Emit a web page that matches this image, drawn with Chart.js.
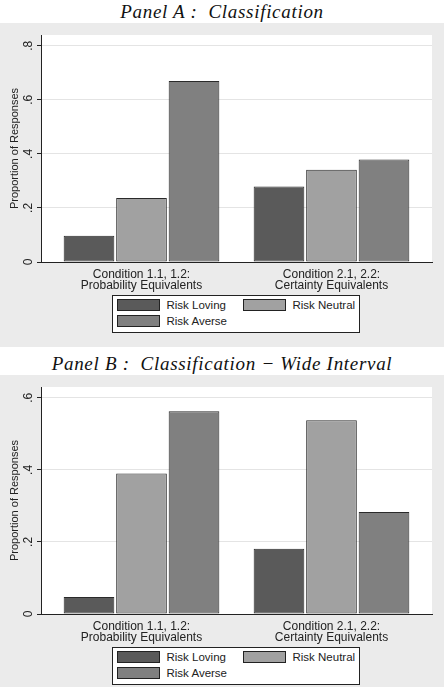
<!DOCTYPE html>
<html>
<head>
<meta charset="utf-8">
<script src="https://cdn.jsdelivr.net/npm/chart.js@4/dist/chart.umd.min.js"></script>
<style>
  html, body { margin: 0; padding: 0; background: #fff; }
  #page { position: relative; width: 444px; height: 687px; overflow: hidden; }
  .panel { position: absolute; left: 0; width: 444px; height: 347px; }
  .panel-title {
    position: absolute; left: 0; top: 0; width: 444px; height: 23px; line-height: 23px;
    text-align: center; font-family: "Liberation Serif", serif; font-style: italic;
    font-size: 19px; letter-spacing: 0.7px; color: #111; white-space: pre;
  }
  .panel-bg { position: absolute; left: 0; top: 23px; width: 444px; height: 324px; background: #ebebeb; }
  .panel canvas { position: absolute; left: 0; top: 23px; }
  .legend-box {
    position: absolute; left: 112px; top: 295px; width: 248px; height: 38px;
    box-sizing: border-box; border: 1px solid #222; background: #fff;
  }
  .swatch { position: absolute; width: 43px; height: 12px; box-sizing: border-box; border: 1px solid #222; }
  .legend-text {
    position: absolute; height: 12px; line-height: 12px; font-family: "Liberation Sans", sans-serif;
    font-size: 11.5px; color: #222; white-space: nowrap;
  }
</style>
</head>
<body>
<div id="page"></div>
<script>
// ---- data ----
const categories = [
    ['Condition 1.1, 1.2:', 'Probability Equivalents'],
    ['Condition 2.1, 2.2:', 'Certainty Equivalents']
];
const seriesNames = ['Risk Loving', 'Risk Neutral', 'Risk Averse'];
const seriesColors = ['#5a5a5a', '#a1a1a1', '#808080'];

// Panel A: Classification
const panelALoving = [0.097, 0.279];
const panelANeutral = [0.237, 0.341];
const panelAAverse = [0.670, 0.379];
const panelATicks = [0, 0.2, 0.4, 0.6, 0.8];
const panelAMax = 0.84;

// Panel B: Classification - Wide Interval
const panelBLoving = [0.047, 0.181];
const panelBNeutral = [0.390, 0.538];
const panelBAverse = [0.563, 0.283];
const panelBTicks = [0, 0.2, 0.4, 0.6];
const panelBMax = 0.63;

Chart.defaults.font.family = '"Liberation Sans", sans-serif';
Chart.defaults.color = '#222';

// white plot region + vertical (rotated) y tick labels, Stata style
const stataLook = {
    id: 'stataLook',
    beforeDraw(chart) {
        const a = chart.chartArea;
        const ctx = chart.ctx;
        ctx.save();
        ctx.fillStyle = '#ffffff';
        ctx.fillRect(a.left, a.top, a.right - a.left, a.bottom - a.top);
        ctx.restore();
    },
    afterDraw(chart) {
        const y = chart.scales.y;
        const ctx = chart.ctx;
        ctx.save();
        ctx.font = '12px "Liberation Sans", sans-serif';
        ctx.fillStyle = '#222';
        ctx.textAlign = 'center';
        ctx.textBaseline = 'middle';
        y.ticks.forEach(t => {
            const py = y.getPixelForValue(t.value);
            ctx.save();
            ctx.translate(y.right - 12, py);
            ctx.rotate(-Math.PI / 2);
            ctx.fillText(formatTick(t.value), 0, 0);
            ctx.restore();
        });
        ctx.restore();
    }
};

function formatTick(v) {
    if (v === 0) return '0';
    return v.toFixed(1).replace(/^0/, '');
}

function buildPanel(top, title, values, yTicks, yMax) {
    const page = document.getElementById('page');
    const panel = document.createElement('div');
    panel.className = 'panel';
    panel.style.top = top + 'px';
    page.appendChild(panel);

    const t = document.createElement('div');
    t.className = 'panel-title';
    t.textContent = title;
    panel.appendChild(t);

    const bg = document.createElement('div');
    bg.className = 'panel-bg';
    panel.appendChild(bg);

    const canvas = document.createElement('canvas');
    canvas.width = 444;
    canvas.height = 270;
    panel.appendChild(canvas);

    // legend (two columns)
    const legend = document.createElement('div');
    legend.className = 'legend-box';
    seriesNames.forEach((name, i) => {
        const col = i % 2, row = Math.floor(i / 2);
        const sw = document.createElement('div');
        sw.className = 'swatch';
        sw.style.left = (4 + col * 126) + 'px';
        sw.style.top = (3 + row * 16) + 'px';
        sw.style.background = seriesColors[i];
        legend.appendChild(sw);
        const tx = document.createElement('div');
        tx.className = 'legend-text';
        tx.style.left = (53.5 + col * 126) + 'px';
        tx.style.top = (3 + row * 16) + 'px';
        tx.textContent = name;
        legend.appendChild(tx);
    });
    panel.appendChild(legend);

    new Chart(canvas, {
        type: 'bar',
        data: {
            datasets: values.map((vals, i) => ({
                label: seriesNames[i],
                data: vals.map((v, j) => ({ x: j, y: v })),
                backgroundColor: seriesColors[i],
                borderColor: '#2a2a2a',
                borderWidth: 1,
                borderSkipped: false,
                categoryPercentage: 0.829,
                barPercentage: 0.965
            }))
        },
        options: {
            responsive: false,
            animation: false,
            layout: { padding: { top: 12, right: 12, left: 0, bottom: 0 } },
            plugins: {
                legend: { display: false },
                tooltip: { enabled: false }
            },
            scales: {
                x: {
                    type: 'linear',
                    offset: false,
                    min: -0.529,
                    max: 1.529,
                    afterBuildTicks: (scale) => {
                        scale.ticks = categories.map((c, i) => ({ value: i }));
                    },
                    afterFit: (scale) => { scale.height = 31; },
                    ticks: {
                        callback: (v) => categories[v],
                        font: { size: 12, lineHeight: 0.917 },
                        color: '#222',
                        padding: 7,
                        maxRotation: 0,
                        minRotation: 0,
                        autoSkip: false
                    },
                    grid: { offset: false, drawOnChartArea: false, drawTicks: false, color: 'transparent' },
                    border: { display: true, color: '#222', width: 1 }
                },
                y: {
                    min: 0,
                    max: yMax,
                    afterBuildTicks: (scale) => {
                        scale.ticks = yTicks.map(v => ({ value: v }));
                    },
                    afterFit: (scale) => { scale.width = 41; },
                    ticks: { display: false },
                    grid: {
                        color: (ctx) => (ctx.tick && ctx.tick.value === 0) ? 'transparent' : '#e4e4e4',
                        tickColor: '#222',
                        tickLength: 4,
                        lineWidth: 1
                    },
                    border: { display: true, color: '#222', width: 1 },
                    title: {
                        display: true,
                        text: 'Proportion of Responses',
                        font: { size: 11 },
                        color: '#222',
                        padding: { top: 8.5, bottom: 0 }
                    }
                }
            }
        },
        plugins: [stataLook]
    });
}

buildPanel(0, 'Panel A :  Classification',
    [panelALoving, panelANeutral, panelAAverse], panelATicks, panelAMax);
buildPanel(352, 'Panel B :  Classification \u2212 Wide Interval',
    [panelBLoving, panelBNeutral, panelBAverse], panelBTicks, panelBMax);
</script>
</body>
</html>
